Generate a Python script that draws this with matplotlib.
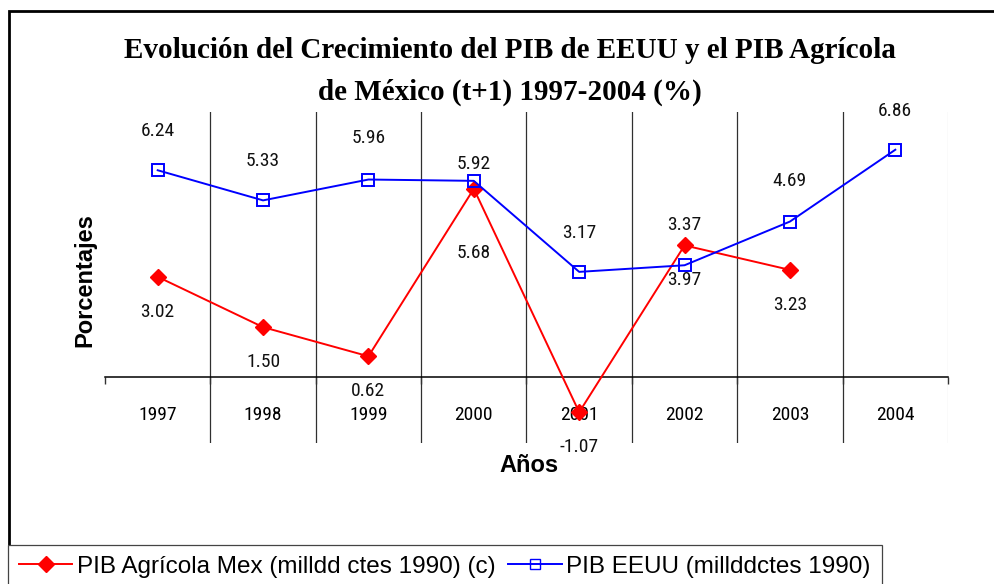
import matplotlib
matplotlib.use("Agg")
import matplotlib.pyplot as plt
from matplotlib.lines import Line2D
from matplotlib.patches import Rectangle

years = ["1997", "1998", "1999", "2000", "2001", "2002", "2003", "2004"]
mex = [3.02, 1.50, 0.62, 5.68, -1.07, 3.97, 3.23]
eeuu = [6.24, 5.33, 5.96, 5.92, 3.17, 3.37, 4.69, 6.86]
mex_name = "PIB Agrícola Mex (milldd ctes 1990) (c)"
eeuu_name = "PIB EEUU (millddctes 1990)"
title_lines = ["Evolución del Crecimiento del PIB de EEUU y el PIB Agrícola",
               "de México (t+1) 1997-2004 (%)"]

narrow = ["Roboto Condensed", "Liberation Sans", "DejaVu Sans"]
sans = ["Liberation Sans", "DejaVu Sans"]

fig = plt.figure(figsize=(9.95, 5.84), dpi=100)
ax = fig.add_axes([105/995, 1-443/584, (948-105)/995, (443-112)/584])

xs = list(range(len(years)))
ax.set_xlim(-0.5, len(years)-0.5)
ax.set_ylim(-2, 8)

# vertical gridlines between categories
for b in range(1, len(years)):
    ax.axvline(b-0.5, color="#303030", lw=0.9, zorder=1)
ax.axvline(len(years)-0.5, color="#d8d8d8", lw=0.9, zorder=1)

for s in ["top", "left", "right"]:
    ax.spines[s].set_visible(False)
ax.spines["bottom"].set_position(("data", 0))
ax.spines["bottom"].set_linewidth(1.1)
ax.set_yticks([])
ax.set_xticks(xs)
ax.set_xticklabels(years, fontfamily=narrow, fontsize=14)
ax.tick_params(axis="x", which="major", length=0, pad=21)
ax.set_xticks([b-0.5 for b in range(len(years)+1)], minor=True)
ax.tick_params(axis="x", which="minor", length=5, width=1, color="#333333", direction="out")

ax.plot(xs[:len(mex)], mex, color="red", lw=1.4, marker="D", ms=8.5, mfc="red", mec="red", zorder=3)
ax.plot(xs, eeuu, color="blue", lw=1.4, marker="s", ms=8, mfc="none", mec="blue", mew=1.4, zorder=3)

eeuu_off = [28, 28, 30, 12, 28, 29, 29, 28]
mex_off = [-25, -25, -25, -46, -25, -25, -25]
for x, v, o in zip(xs, eeuu, eeuu_off):
    ax.annotate(f"{v:.2f}", (x, v), xytext=(0, o), textcoords="offset points",
                ha="center", va="center", fontsize=14, fontfamily=narrow, color="#111111")
for x, v, o in zip(xs, mex, mex_off):
    ax.annotate(f"{v:.2f}", (x, v), xytext=(0, o), textcoords="offset points",
                ha="center", va="center", fontsize=14, fontfamily=narrow, color="#111111")

for line, yp in zip(title_lines, [50, 92]):
    fig.text(510/995, 1-yp/584, line, ha="center", va="center", fontsize=21, fontweight="bold",
             fontfamily=["Liberation Serif", "DejaVu Serif"])
fig.text(85/995, 1-280/584, "Porcentajes", rotation=90, ha="center", va="center",
         fontsize=17, fontweight="bold", fontfamily=sans)
fig.text(529/995, 1-465/584, "Años", ha="center", va="center",
         fontsize=17, fontweight="bold", fontfamily=sans)

# chart border
fig.patches.append(Rectangle((9/995, -0.1), 1.1, 1-11/584+0.1, transform=fig.transFigure,
                             fill=False, ec="black", lw=2))

handles = [Line2D([], [], color="red", lw=1.4, marker="D", ms=8, mfc="red", mec="red"),
           Line2D([], [], color="blue", lw=1.4, marker="s", ms=6.5, mfc="none", mec="blue")]
leg = fig.legend(handles, [mex_name, eeuu_name], loc="upper left",
                 bbox_to_anchor=(8/995, 1-545/584), ncol=2, frameon=True, fancybox=False,
                 edgecolor="#444444", framealpha=1, borderpad=0.45, handlelength=2.2,
                 handletextpad=0.2, columnspacing=0.5, borderaxespad=0,
                 prop={"family": sans, "size": 17.5})
leg.get_frame().set_linewidth(0.9)

fig.savefig("out.png", dpi=100)
